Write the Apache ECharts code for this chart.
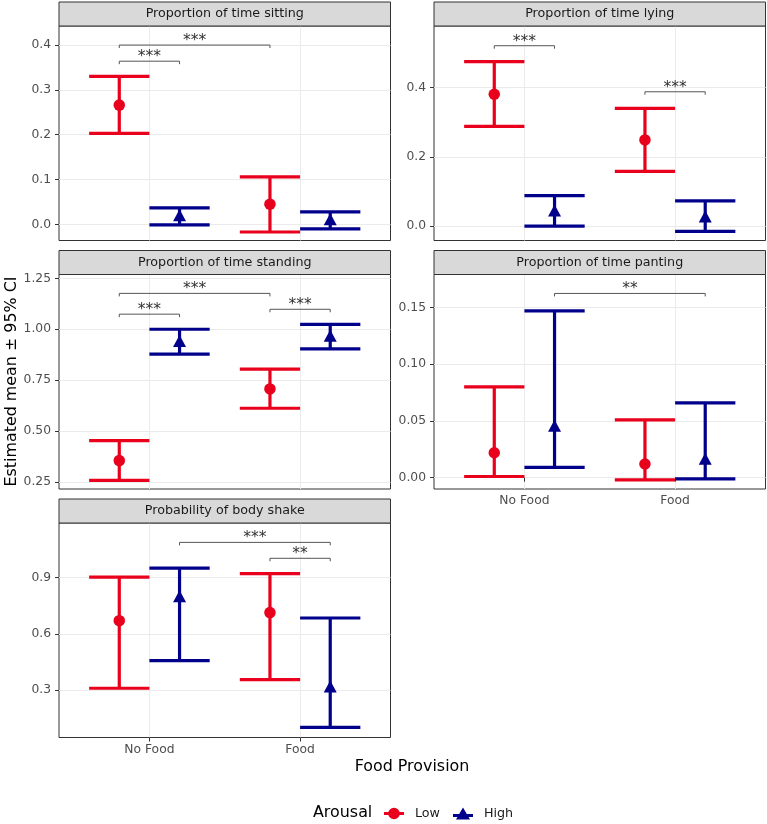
<!DOCTYPE html>
<html><head><meta charset="utf-8">
<script src="https://cdn.jsdelivr.net/npm/echarts@6/dist/echarts.min.js"></script>
<style>html,body{margin:0;padding:0;background:#fff}#c{width:767px;height:824px}</style>
</head><body><div id="c"></div>
<script>
// ---------------- DATA ----------------
const categories = ['No Food', 'Food'];
const groups = ['Low', 'High'];
const panelTitles = ['Proportion of time sitting', 'Proportion of time lying', 'Proportion of time standing', 'Proportion of time panting', 'Probability of body shake'];

// sitting
const sittingLowMean = [0.266, 0.045];
const sittingLowLower = [0.203, -0.017];
const sittingLowUpper = [0.330, 0.106];
const sittingHighMean = [0.016, 0.007];
const sittingHighLower = [-0.001, -0.010];
const sittingHighUpper = [0.037, 0.028];
// lying
const lyingLowMean = [0.381, 0.249];
const lyingLowLower = [0.288, 0.158];
const lyingLowUpper = [0.475, 0.340];
const lyingHighMean = [0.039, 0.022];
const lyingHighLower = [0.000, -0.015];
const lyingHighUpper = [0.088, 0.073];
// standing
const standingLowMean = [0.355, 0.707];
const standingLowLower = [0.258, 0.612];
const standingLowUpper = [0.453, 0.804];
const standingHighMean = [0.932, 0.958];
const standingHighLower = [0.878, 0.904];
const standingHighUpper = [1.000, 1.024];
// panting
const pantingLowMean = [0.022, 0.012];
const pantingLowLower = [0.001, -0.002];
const pantingLowUpper = [0.080, 0.051];
const pantingHighMean = [0.044, 0.015];
const pantingHighLower = [0.009, -0.001];
const pantingHighUpper = [0.147, 0.066];
// body shake
const shakeLowMean = [0.670, 0.713];
const shakeLowLower = [0.309, 0.355];
const shakeLowUpper = [0.902, 0.921];
const shakeHighMean = [0.789, 0.307];
const shakeHighLower = [0.457, 0.100];
const shakeHighUpper = [0.950, 0.684];

// significance brackets: [fromCategory, fromGroup, toCategory, toGroup, y, label]
const sittingSig = [['No Food', 'Low', 'No Food', 'High', 0.364, '***'], ['No Food', 'Low', 'Food', 'Low', 0.400, '***']];
const lyingSig = [['No Food', 'Low', 'No Food', 'High', 0.521, '***'], ['Food', 'Low', 'Food', 'High', 0.388, '***']];
const standingSig = [['No Food', 'Low', 'Food', 'Low', 1.176, '***'], ['No Food', 'Low', 'No Food', 'High', 1.074, '***'], ['Food', 'Low', 'Food', 'High', 1.098, '***']];
const pantingSig = [['No Food', 'High', 'Food', 'High', 0.1624, '**']];
const shakeSig = [['No Food', 'High', 'Food', 'High', 1.088, '***'], ['Food', 'Low', 'Food', 'High', 1.003, '**']];

// y scales and tick labels
const yMins = [-0.036, -0.0416, 0.2156, -0.010, 0.0459];
const yMaxs = [0.4425, 0.578, 1.2687, 0.1791, 1.1915];
const sittingTicks = [0, 0.1, 0.2, 0.3, 0.4];
const sittingTickLabels = ['0.0', '0.1', '0.2', '0.3', '0.4'];
const lyingTicks = [0, 0.2, 0.4];
const lyingTickLabels = ['0.0', '0.2', '0.4'];
const standingTicks = [0.25, 0.5, 0.75, 1.0, 1.25];
const standingTickLabels = ['0.25', '0.50', '0.75', '1.00', '1.25'];
const pantingTicks = [0, 0.05, 0.10, 0.15];
const pantingTickLabels = ['0.00', '0.05', '0.10', '0.15'];
const shakeTicks = [0.3, 0.6, 0.9];
const shakeTickLabels = ['0.3', '0.6', '0.9'];

// ---------------- BUILD ----------------
const panels = [
  {low: [sittingLowMean, sittingLowLower, sittingLowUpper], high: [sittingHighMean, sittingHighLower, sittingHighUpper], sig: sittingSig, ticks: sittingTicks, labels: sittingTickLabels},
  {low: [lyingLowMean, lyingLowLower, lyingLowUpper], high: [lyingHighMean, lyingHighLower, lyingHighUpper], sig: lyingSig, ticks: lyingTicks, labels: lyingTickLabels},
  {low: [standingLowMean, standingLowLower, standingLowUpper], high: [standingHighMean, standingHighLower, standingHighUpper], sig: standingSig, ticks: standingTicks, labels: standingTickLabels},
  {low: [pantingLowMean, pantingLowLower, pantingLowUpper], high: [pantingHighMean, pantingHighLower, pantingHighUpper], sig: pantingSig, ticks: pantingTicks, labels: pantingTickLabels},
  {low: [shakeLowMean, shakeLowLower, shakeLowUpper], high: [shakeHighMean, shakeHighLower, shakeHighUpper], sig: shakeSig, ticks: shakeTicks, labels: shakeTickLabels}
];

const FONT = 'DejaVu Sans';
const RED = '#E8001C', BLUE = '#00008B';
const DODGE = 0.2, HALF = 0.2;
const layout = [[59, 26], [434, 26], [59, 274.5], [434, 274.5], [59, 523]];
const PW = 331.5, PH = 214.5, SH = 24;
const showX = [false, false, false, true, true];

function xPos(cat, grp) { return categories.indexOf(cat) + 1 + (grp === 'Low' ? -DODGE : DODGE); }

const grid = [], xAxis = [], yAxis = [], series = [], graphic = [];

function errorbarSeries(i, arr, grp, color) {
  return {
    type: 'custom', name: grp + ' CI', xAxisIndex: i, yAxisIndex: i, z: 3,
    data: categories.map((c, j) => [xPos(c, grp), arr[1][j], arr[2][j]]),
    encode: {x: 0, y: [1, 2]},
    renderItem: function (params, api) {
      const x = api.value(0), lo = api.value(1), hi = api.value(2);
      const pLo = api.coord([x, lo]), pHi = api.coord([x, hi]);
      const l = api.coord([x - HALF, lo])[0], r = api.coord([x + HALF, lo])[0];
      const st = {stroke: color, lineWidth: 3.2};
      return {type: 'group', children: [
        {type: 'line', shape: {x1: pLo[0], y1: pLo[1], x2: pHi[0], y2: pHi[1]}, style: st},
        {type: 'line', shape: {x1: l, y1: pLo[1], x2: r, y2: pLo[1]}, style: st},
        {type: 'line', shape: {x1: l, y1: pHi[1], x2: r, y2: pHi[1]}, style: st}
      ]};
    }
  };
}

panels.forEach((p, i) => {
  const [left, top] = layout[i];
  grid.push({left: left, top: top, width: PW, height: PH, show: true, borderColor: '#333333', borderWidth: 1, backgroundColor: '#fff'});
  xAxis.push({
    type: 'value', gridIndex: i, min: 0.4, max: 2.6,
    axisLine: {show: false},
    axisTick: {show: showX[i], customValues: [1, 2], length: 4, lineStyle: {color: '#333333', width: 1}},
    axisLabel: {show: showX[i], customValues: [1, 2], formatter: v => categories[Math.round(v) - 1], color: '#4D4D4D', fontSize: 12.3, margin: 6, fontFamily: FONT},
    splitLine: {show: true, lineStyle: {color: '#EBEBEB', width: 1}}
  });
  yAxis.push({
    type: 'value', gridIndex: i, min: yMins[i], max: yMaxs[i],
    axisLine: {show: false},
    axisTick: {show: true, customValues: p.ticks, length: 4, lineStyle: {color: '#333333', width: 1}},
    axisLabel: {customValues: p.ticks, formatter: v => { const k = p.ticks.findIndex(t => Math.abs(t - v) < 1e-9); return k >= 0 ? p.labels[k] : ''; }, color: '#4D4D4D', fontSize: 12.3, margin: 8, fontFamily: FONT},
    splitLine: {show: true, lineStyle: {color: '#EBEBEB', width: 1}}
  });
  series.push(errorbarSeries(i, p.low, 'Low', RED));
  series.push(errorbarSeries(i, p.high, 'High', BLUE));
  series.push({type: 'scatter', name: 'Low', xAxisIndex: i, yAxisIndex: i, z: 4, symbol: 'circle', symbolSize: 11.5,
    itemStyle: {color: RED, opacity: 1}, data: categories.map((c, j) => [xPos(c, 'Low'), p.low[0][j]])});
  series.push({type: 'scatter', name: 'High', xAxisIndex: i, yAxisIndex: i, z: 4, symbol: 'triangle', symbolSize: [13, 12], symbolOffset: [0, -2],
    itemStyle: {color: BLUE, opacity: 1}, data: categories.map((c, j) => [xPos(c, 'High'), p.high[0][j]])});
  const sig = p.sig;
  series.push({
    type: 'custom', name: 'sig', xAxisIndex: i, yAxisIndex: i, z: 5,
    data: sig.map(s => [xPos(s[0], s[1]), xPos(s[2], s[3]), s[4]]),
    encode: {x: [0, 1], y: 2},
    renderItem: function (params, api) {
      const a = api.coord([api.value(0), api.value(2)]);
      const b = api.coord([api.value(1), api.value(2)]);
      const st = {stroke: '#555555', lineWidth: 1};
      return {type: 'group', children: [
        {type: 'polyline', shape: {points: [[a[0], a[1] + 3], [a[0], a[1]], [b[0], b[1]], [b[0], b[1] + 3]]}, style: Object.assign({fill: null}, st)},
        {type: 'text', x: (a[0] + b[0]) / 2, y: a[1] - 4, style: {text: sig[params.dataIndex][5], fontSize: 15.5, fontFamily: FONT, fill: '#333333', align: 'center', verticalAlign: 'middle'}}
      ]};
    }
  });
  graphic.push({type: 'rect', shape: {x: left, y: top - SH, width: PW, height: SH}, style: {fill: '#D9D9D9', stroke: '#333333', lineWidth: 1}, z: 10});
  graphic.push({type: 'text', x: left + PW / 2, y: top - SH / 2, style: {text: panelTitles[i], fontSize: 12.7, fontFamily: FONT, fill: '#1A1A1A', align: 'center', verticalAlign: 'middle'}, z: 11});
});

graphic.push({type: 'text', x: 412, y: 767, style: {text: 'Food Provision', fontSize: 15.9, fontFamily: FONT, fill: '#000', align: 'center', verticalAlign: 'middle'}});
graphic.push({type: 'text', x: 12, y: 381.5, rotation: Math.PI / 2, style: {text: 'Estimated mean ± 95% CI', fontSize: 15.9, fontFamily: FONT, fill: '#000', align: 'center', verticalAlign: 'middle'}});
graphic.push({type: 'text', x: 313, y: 813, style: {text: 'Arousal', fontSize: 15.9, fontFamily: FONT, fill: '#000', align: 'left', verticalAlign: 'middle'}});

const LOW_ICON = 'path://M0,4.4H20V7.6H0Z M4.2,6A5.8,5.8,0,1,1,15.8,6A5.8,5.8,0,1,1,4.2,6Z';
const HIGH_ICON = 'path://M0,6.4H20V9.6H0Z M10,0L17,12L3,12Z';

const chart = echarts.init(document.getElementById('c'), null, {renderer: 'canvas'});
chart.setOption({
  animation: false,
  backgroundColor: '#fff',
  textStyle: {fontFamily: FONT},
  grid: grid, xAxis: xAxis, yAxis: yAxis, series: series, graphic: graphic,
  legend: {left: 384, top: 807, padding: 0, itemWidth: 20, itemHeight: 12, itemGap: 13, selectedMode: false,
    textStyle: {fontSize: 12.7, color: '#1A1A1A', fontFamily: FONT, padding: [0, 0, 0, 6]},
    data: [{name: 'Low', icon: LOW_ICON, itemStyle: {color: RED}}, {name: 'High', icon: HIGH_ICON, itemStyle: {color: BLUE}}]}
});
</script></body></html>
